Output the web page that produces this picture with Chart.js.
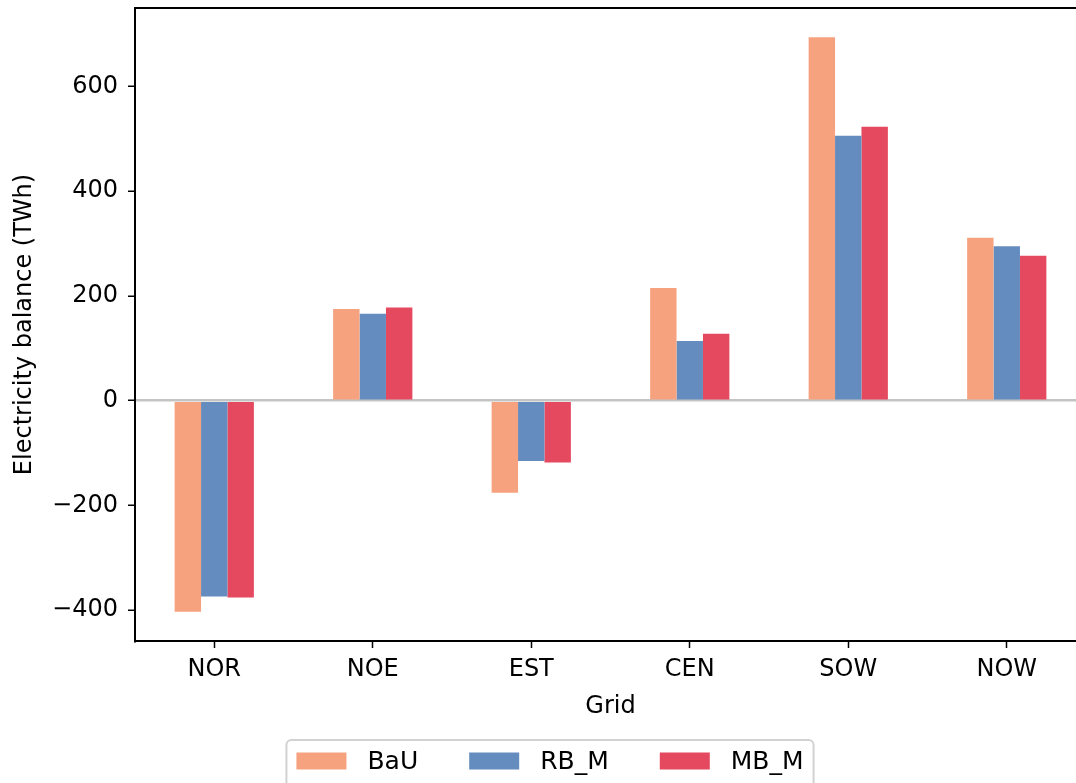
<!DOCTYPE html>
<html>
<head>
<meta charset="utf-8">
<title>Electricity balance by grid</title>
<script src="https://cdn.jsdelivr.net/npm/chart.js@4.4.1/dist/chart.umd.min.js"></script>
<style>
  html, body { margin: 0; padding: 0; background: #fff; overflow: hidden; }
  #wrap { width: 1076px; height: 783px; overflow: hidden; }
  canvas { display: block; }
</style>
</head>
<body>
<div id="wrap"><canvas id="chart" width="1096" height="783"></canvas></div>
<script>
// Regional grids
const grids = ['NOR', 'NOE', 'EST', 'CEN', 'SOW', 'NOW'];

// Electricity balance per grid (TWh) for each scenario
const bauValues  = [-403, 175, -176, 215, 694, 311];
const rbmValues  = [-374, 166, -115, 114, 506, 295];
const mbmValues  = [-376, 178, -118, 128, 523, 277];

const seriesNames  = ['BaU', 'RB_M', 'MB_M'];
const seriesColors = ['#F6A27F', '#648CBE', '#E5495F'];

// Value axis range and tick labels
const yMin = -459;
const yMax = 750;
const yTicks = [-400, -200, 0, 200, 400, 600];

const FONT = "'DejaVu Sans', sans-serif";

// Top frame line of the plot area
const topFrame = {
  id: 'topFrame',
  afterDatasetsDraw(chart) {
    const { ctx, chartArea } = chart;
    ctx.save();
    ctx.strokeStyle = '#000';
    ctx.lineWidth = 2;
    ctx.beginPath();
    ctx.moveTo(chartArea.left - 1, chartArea.top);
    ctx.lineTo(chartArea.right + 1, chartArea.top);
    ctx.stroke();
    ctx.restore();
  }
};

// Framed legend in a single row below the axis title
const boxedLegend = {
  id: 'boxedLegend',
  afterDraw(chart) {
    const { ctx } = chart;
    const fontPx = 25;
    const pad = 10, handle = 50, textPad = 21, colGap = 51;
    const top = 740, boxH = 60, handleH = 17;
    const cx = 550;
    ctx.save();
    ctx.font = fontPx + 'px ' + FONT;
    const items = chart.data.datasets.map(ds => ({
      label: ds.label, color: ds.backgroundColor, w: ctx.measureText(ds.label).width
    }));
    let total = pad * 2;
    items.forEach((it, i) => {
      total += handle + textPad + it.w + (i > 0 ? colGap : 0);
    });
    const left = cx - total / 2;
    // frame
    ctx.fillStyle = 'rgba(255,255,255,0.85)';
    ctx.strokeStyle = '#d2d2d2';
    ctx.lineWidth = 2;
    ctx.beginPath();
    ctx.roundRect(left, top, total, boxH, 5);
    ctx.fill();
    ctx.stroke();
    // entries
    let x = left + pad;
    const midY = top + 21;
    ctx.textBaseline = 'middle';
    ctx.textAlign = 'left';
    items.forEach(it => {
      ctx.fillStyle = it.color;
      ctx.fillRect(x, midY - handleH / 2, handle, handleH);
      x += handle + textPad;
      ctx.fillStyle = '#000';
      ctx.fillText(it.label, x, midY + 1);
      x += it.w + colGap;
    });
    ctx.restore();
  }
};

const chart = new Chart(document.getElementById('chart'), {
  type: 'bar',
  data: {
    labels: grids,
    datasets: [bauValues, rbmValues, mbmValues].map((vals, i) => ({
      label: seriesNames[i],
      data: vals,
      backgroundColor: seriesColors[i],
      borderWidth: 0,
      categoryPercentage: 0.5,
      barPercentage: 1.0
    }))
  },
  options: {
    responsive: false,
    devicePixelRatio: 1,
    animation: false,
    layout: { padding: { left: 6, top: 8, right: 10, bottom: 62 } },
    plugins: {
      legend: { display: false },
      tooltip: { enabled: false }
    },
    scales: {
      x: {
        type: 'category',
        offset: true,
        grid: {
          display: true,
          offset: false,
          drawOnChartArea: false,
          drawTicks: true,
          tickLength: 7,
          tickColor: '#000',
          tickWidth: 1.5
        },
        border: { display: true, color: '#000', width: 2 },
        ticks: {
          color: '#000',
          font: { family: FONT, size: 24 },
          padding: 7,
          maxRotation: 0,
          autoSkip: false
        },
        title: {
          display: true,
          text: 'Grid',
          color: '#000',
          font: { family: FONT, size: 24 },
          padding: { top: 4, bottom: 0 }
        },
        afterFit(scale) {
          scale.height = 80;
          scale.paddingLeft = 0;
          scale.paddingRight = 0;
        }
      },
      y: {
        min: yMin,
        max: yMax,
        afterBuildTicks(scale) {
          scale.ticks = yTicks.map(v => ({ value: v }));
        },
        grid: {
          display: true,
          drawOnChartArea: true,
          drawTicks: true,
          tickLength: 7,
          tickColor: '#000',
          tickWidth: 1.5,
          lineWidth: 2.5,
          color: c => (c.tick && c.tick.value === 0 ? '#c4c4c4' : 'rgba(0,0,0,0)')
        },
        border: { display: true, color: '#000', width: 2 },
        ticks: {
          color: '#000',
          font: { family: FONT, size: 24 },
          padding: 10,
          callback: v => (v < 0 ? '\u2212' + Math.abs(v) : String(v))
        },
        title: {
          display: true,
          text: 'Electricity balance (TWh)',
          color: '#000',
          font: { family: FONT, size: 24 },
          padding: { top: 4, bottom: 4 }
        },
        afterFit(scale) {
          scale.width = 129;
          scale.paddingTop = 0;
          scale.paddingBottom = 0;
        }
      }
    }
  },
  plugins: [topFrame, boxedLegend]
});
</script>
</body>
</html>
